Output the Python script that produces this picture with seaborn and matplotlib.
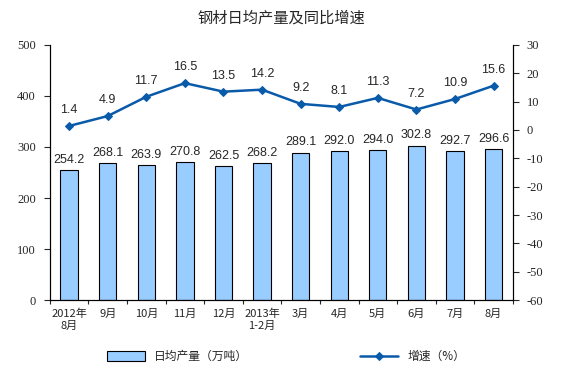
import numpy as np
import pandas as pd
import matplotlib
matplotlib.use('Agg')
import matplotlib.pyplot as plt
import seaborn as sns

months = ['2012年\n8月', '9月', '10月', '11月', '12月', '2013年\n1-2月',
          '3月', '4月', '5月', '6月', '7月', '8月']
output = [254.2, 268.1, 263.9, 270.8, 262.5, 268.2, 289.1, 292.0, 294.0, 302.8, 292.7, 296.6]
growth = [1.4, 4.9, 11.7, 16.5, 13.5, 14.2, 9.2, 8.1, 11.3, 7.2, 10.9, 15.6]

sns.set_style('white')
plt.rcParams['font.family'] = ['Noto Sans CJK SC', 'DejaVu Sans']
plt.rcParams['axes.unicode_minus'] = False

df = pd.DataFrame({'month': months, 'output': output, 'growth': growth})
x = np.arange(len(months))

fig = plt.figure(figsize=(5.73, 3.77), dpi=100)
ax = fig.add_axes([0.087, 0.204, 0.808, 0.677])

sns.barplot(data=df, x='month', y='output', ax=ax, color='#99CCFF', width=0.45,
            edgecolor='black', linewidth=0.8, saturation=1, label='日均产量（万吨）')
ax.set_ylim(0, 500)
ax.set_xlim(-0.5, len(months) - 0.5)
ax.set_yticks(range(0, 501, 100))
ax.set_xlabel('')
ax.set_ylabel('')
for i, v in enumerate(output):
    ax.text(i, v + 8, f'{v:.1f}', ha='center', va='bottom', fontsize=9,
            family='Liberation Sans')

ax2 = ax.twinx()
sns.lineplot(x=x, y=growth, ax=ax2, color='#0A5AAA', marker='D', markersize=4,
             linewidth=1.8, markeredgecolor='#0A5AAA', label='增速（%）', legend=False)
ax2.set_ylim(-60, 30)
ax2.set_yticks(range(-60, 31, 10))
for i, v in enumerate(growth):
    ax2.text(i, v + 3.5, f'{v:.1f}', ha='center', va='bottom', fontsize=9,
             family='Liberation Sans')

for a in (ax, ax2):
    a.spines['top'].set_visible(False)
    for s in ('left', 'right', 'bottom'):
        a.spines[s].set_color('black')
        a.spines[s].set_linewidth(0.8)
    for lab in a.get_yticklabels():
        lab.set_family('Liberation Serif')
        lab.set_fontsize(9)

ax.tick_params(axis='y', left=True, length=4, width=0.8, direction='out', pad=6)
ax2.tick_params(axis='y', right=True, length=4, width=0.8, direction='out', pad=6)
ax.set_xticks(x)
ax.set_xticklabels(months, fontsize=8)
ax.tick_params(axis='x', length=0, pad=6)
ax.set_xticks(np.arange(-0.5, len(months), 1), minor=True)
ax.tick_params(axis='x', which='minor', length=3, width=0.8, bottom=True, direction='out')

ax.set_title('钢材日均产量及同比增速', fontsize=11, pad=16)

h1, l1 = ax.get_legend_handles_labels()
h2, l2 = ax2.get_legend_handles_labels()
fig.legend(h1, l1, loc='center', bbox_to_anchor=(0.31, 0.055), frameon=False,
           fontsize=8.5, handlelength=3.2, handleheight=0.9)
fig.legend(h2, l2, loc='center', bbox_to_anchor=(0.72, 0.055), frameon=False,
           fontsize=8.5, handlelength=3.2)
if ax.get_legend():
    ax.get_legend().remove()

fig.savefig('out.png', dpi=100)
